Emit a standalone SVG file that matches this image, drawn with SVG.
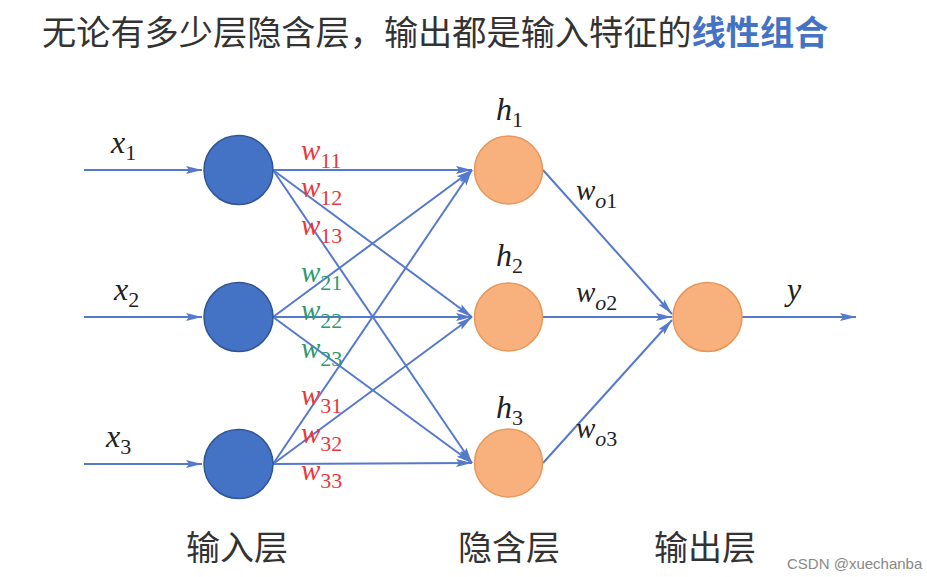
<svg xmlns="http://www.w3.org/2000/svg" width="927" height="577" viewBox="0 0 927 577">
<style>
.title{font-family:"Noto Sans CJK SC","Noto Sans",sans-serif;font-size:34.2px;fill:#333}
.hl{fill:#4472C4;font-weight:bold}
.lay{font-family:"Noto Sans CJK SC","Noto Sans",sans-serif;font-size:34px;fill:#333}
.var{font-family:"Liberation Serif","DejaVu Serif",serif;font-style:italic;font-size:32px;fill:#222}
.sub{font-style:normal;font-size:22px}
.subi{font-size:22px}
.w{font-family:"Liberation Serif","DejaVu Serif",serif;font-style:italic;font-size:29px}
.red{fill:#E8383D}
.grn{fill:#2E9A6B}
.blk{fill:#222}
.inN{fill:#4472C4;stroke:#2F5597;stroke-width:1.5}
.hidN{fill:#F8B07C;stroke:#E8965A;stroke-width:1.5}
.c{stroke:#5579CC;stroke-width:2;fill:none;marker-end:url(#ah)}
.wm{font-family:"Liberation Sans",sans-serif;font-size:15px;fill:#888}
</style>
<defs>
<marker id="ah" markerUnits="userSpaceOnUse" markerWidth="16" markerHeight="10" viewBox="0 0 16 10" refX="16" refY="5" orient="auto">
<path d="M0,1 L16,5 L0,9 L3,5 Z" fill="#5579CC"/>
</marker>
</defs>
<rect width="927" height="577" fill="#fff"/>
<text class="title" x="42" y="45">无论有多少层隐含层，输出都是输入特征的<tspan class="hl">线性组合</tspan></text>

<g id="connectors">
<line class="c" x1="84" y1="170" x2="202" y2="170"/>
<line class="c" x1="84" y1="317" x2="202" y2="317"/>
<line class="c" x1="84" y1="464" x2="202" y2="464"/>
<line class="c" x1="273" y1="170" x2="472" y2="170"/>
<line class="c" x1="273" y1="170" x2="472" y2="317"/>
<line class="c" x1="273" y1="170" x2="472" y2="463"/>
<line class="c" x1="273" y1="317" x2="472" y2="170"/>
<line class="c" x1="273" y1="317" x2="472" y2="317"/>
<line class="c" x1="273" y1="317" x2="472" y2="463"/>
<line class="c" x1="273" y1="464" x2="472" y2="170"/>
<line class="c" x1="273" y1="464" x2="472" y2="317"/>
<line class="c" x1="273" y1="464" x2="472" y2="463"/>
<line class="c" x1="543" y1="170" x2="672" y2="314"/>
<line class="c" x1="543" y1="317" x2="672" y2="317"/>
<line class="c" x1="543" y1="463" x2="672" y2="320"/>
<line class="c" x1="742" y1="317" x2="856" y2="317"/>
</g>

<g id="in1"><circle class="inN" cx="238.5" cy="170" r="34.5"/><text class="var" x="111" y="153">x<tspan class="sub" dy="7">1</tspan></text></g>
<g id="in2"><circle class="inN" cx="238.5" cy="317" r="34.5"/><text class="var" x="114" y="300">x<tspan class="sub" dy="7">2</tspan></text></g>
<g id="in3"><circle class="inN" cx="238.5" cy="464" r="34.5"/><text class="var" x="106" y="447">x<tspan class="sub" dy="7">3</tspan></text></g>

<g id="h1"><circle class="hidN" cx="508.5" cy="170" r="34"/><text class="var" x="496" y="120">h<tspan class="sub" dy="7">1</tspan></text></g>
<g id="h2"><circle class="hidN" cx="508.5" cy="317" r="34"/><text class="var" x="496" y="266">h<tspan class="sub" dy="7">2</tspan></text></g>
<g id="h3"><circle class="hidN" cx="508.5" cy="463" r="34"/><text class="var" x="496" y="418">h<tspan class="sub" dy="7">3</tspan></text></g>

<g id="out"><circle class="hidN" cx="707.5" cy="317" r="34.5"/><text class="var" x="787" y="300">y</text></g>

<g id="weights">
<text class="w red" x="301" y="160">w<tspan class="sub" dy="8">11</tspan></text>
<text class="w red" x="301" y="197">w<tspan class="sub" dy="8">12</tspan></text>
<text class="w red" x="301" y="235">w<tspan class="sub" dy="8">13</tspan></text>
<text class="w grn" x="301" y="282">w<tspan class="sub" dy="8">21</tspan></text>
<text class="w grn" x="301" y="320">w<tspan class="sub" dy="8">22</tspan></text>
<text class="w grn" x="301" y="358">w<tspan class="sub" dy="8">23</tspan></text>
<text class="w red" x="301" y="405">w<tspan class="sub" dy="8">31</tspan></text>
<text class="w red" x="301" y="443">w<tspan class="sub" dy="8">32</tspan></text>
<text class="w red" x="301" y="480">w<tspan class="sub" dy="8">33</tspan></text>
<text class="w blk" x="576" y="200">w<tspan class="subi" dy="8">o</tspan><tspan class="sub">1</tspan></text>
<text class="w blk" x="576" y="302">w<tspan class="subi" dy="8">o</tspan><tspan class="sub">2</tspan></text>
<text class="w blk" x="576" y="438">w<tspan class="subi" dy="8">o</tspan><tspan class="sub">3</tspan></text>
</g>

<g id="layers">
<text class="lay" x="186" y="560">输入层</text>
<text class="lay" x="458" y="560">隐含层</text>
<text class="lay" x="654" y="560">输出层</text>
</g>
<text class="wm" x="787" y="569">CSDN @xuechanba</text>
</svg>
